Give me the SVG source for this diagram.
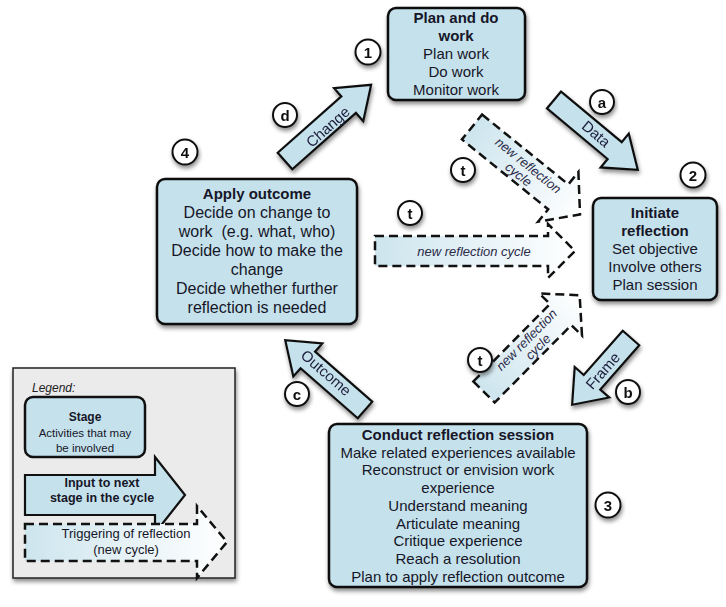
<svg xmlns="http://www.w3.org/2000/svg" width="726" height="607" viewBox="0 0 726 607">
<defs>
<style>
.box{fill:#c5e2ec;stroke:#111;stroke-width:2.5}
.arr{fill:#c5e2ec;stroke:#111;stroke-width:2.2;stroke-linejoin:miter}
.dash{fill:url(#dg);stroke:#111;stroke-width:2.5;stroke-dasharray:9 5}
.t{font-family:"Liberation Sans",Arial,sans-serif;fill:#161628;text-anchor:middle}
.b{font-weight:bold}
.al{font-family:"Liberation Sans",Arial,sans-serif;fill:#1b1b3a;font-size:15px;text-anchor:middle}
.dl{font-family:"Liberation Sans",Arial,sans-serif;fill:#2a2a48;font-size:13px;font-style:italic;text-anchor:middle}
.num circle{fill:#fff;stroke:#111;stroke-width:2}
.num text{font-family:"Liberation Sans",Arial,sans-serif;font-weight:bold;font-size:15px;fill:#111;text-anchor:middle}
</style>
<linearGradient id="dg" x1="0" y1="0" x2="1" y2="0">
<stop offset="0" stop-color="#cde5ee"/>
<stop offset="1" stop-color="#ffffff"/>
</linearGradient>
<filter id="sh" x="-20%" y="-20%" width="140%" height="150%">
<feDropShadow dx="1" dy="3" stdDeviation="2" flood-color="#000" flood-opacity="0.45"/>
</filter>
</defs>
<rect width="726" height="607" fill="#fff"/>

<g id="connectors">
<g id="arrow-change" filter="url(#sh)">
<path class="arr" transform="translate(285,161) rotate(-41.5)" d="M0,-11 L85,-11 L85,-22 L115,0 L85,22 L85,11 L0,11 Z"/>
<text class="al" transform="translate(328,127) rotate(-41.5)" y="5">Change</text>
</g>
<g id="arrow-data" filter="url(#sh)">
<path class="arr" transform="translate(554,100) rotate(39.8)" d="M0,-11 L79,-11 L79,-22 L109,0 L79,22 L79,11 L0,11 Z"/>
<text class="al" transform="translate(596,134) rotate(39.8)" y="5">Data</text>
</g>
<g id="arrow-outcome" filter="url(#sh)">
<path class="arr" transform="translate(365,410) rotate(-138.8)" d="M0,-11 L76,-11 L76,-22 L106,0 L76,22 L76,11 L0,11 Z"/>
<text class="al" transform="translate(326,373) rotate(41.2)" y="5">Outcome</text>
</g>
<g id="arrow-frame" filter="url(#sh)">
<path class="arr" transform="translate(631,338) rotate(131.4)" d="M0,-11 L59,-11 L59,-23 L89,0 L59,23 L59,11 L0,11 Z"/>
<text class="al" transform="translate(603,371) rotate(-48.6)" y="5">Frame</text>
</g>
<g id="trigger-top">
<g transform="translate(472,127) rotate(39)">
<path class="dash" d="M0,-16 L111,-16 L111,-32 L139,0 L111,32 L111,16 L0,16 Z"/>
<text class="dl" x="68" y="-1">new reflection</text>
<text class="dl" x="66" y="12">cycle</text>
</g>
</g>
<g id="trigger-mid">
<g transform="translate(375,251)">
<path class="dash" d="M0,-15 L173,-15 L173,-27 L200,0 L173,27 L173,15 L0,15 Z"/>
<text class="dl" x="99" y="5">new reflection cycle</text>
</g>
</g>
<g id="trigger-low">
<g transform="translate(484,392) rotate(-45.3)">
<path class="dash" d="M0,-15 L109,-15 L109,-30 L136,0 L109,30 L109,15 L0,15 Z"/>
<text class="dl" x="67" y="-2">new reflection</text>
<text class="dl" x="70" y="11">cycle</text>
</g>
</g>
</g>

<g id="node-plan">
<rect class="box" x="388" y="8" width="137" height="92" rx="8" filter="url(#sh)"/>
<text class="t b" x="456" y="23" font-size="15">Plan and do</text>
<text class="t b" x="456" y="41" font-size="15">work</text>
<text class="t" x="456" y="59" font-size="15">Plan work</text>
<text class="t" x="456" y="77" font-size="15">Do work</text>
<text class="t" x="456" y="95" font-size="15">Monitor work</text>
</g>

<g id="node-initiate">
<rect class="box" x="593" y="198" width="124" height="102" rx="8" filter="url(#sh)"/>
<text class="t b" x="655" y="218" font-size="15">Initiate</text>
<text class="t b" x="655" y="236" font-size="15">reflection</text>
<text class="t" x="655" y="254" font-size="15">Set objective</text>
<text class="t" x="655" y="272" font-size="15">Involve others</text>
<text class="t" x="655" y="290" font-size="15">Plan session</text>
</g>

<g id="node-conduct">
<rect class="box" x="329" y="424" width="258" height="163" rx="8" filter="url(#sh)"/>
<text class="t b" x="458" y="440" font-size="15">Conduct reflection session</text>
<text class="t" x="458" y="458" font-size="15">Make related experiences available</text>
<text class="t" x="458" y="475" font-size="15">Reconstruct or envision work</text>
<text class="t" x="458" y="493" font-size="15">experience</text>
<text class="t" x="458" y="511" font-size="15">Understand meaning</text>
<text class="t" x="458" y="529" font-size="15">Articulate meaning</text>
<text class="t" x="458" y="546" font-size="15">Critique experience</text>
<text class="t" x="458" y="564" font-size="15">Reach a resolution</text>
<text class="t" x="458" y="582" font-size="15">Plan to apply reflection outcome</text>
</g>

<g id="node-apply">
<rect class="box" x="157" y="179" width="200" height="145" rx="8" filter="url(#sh)"/>
<text class="t b" x="257" y="199" font-size="15">Apply outcome</text>
<text class="t" x="257" y="218" font-size="16">Decide on change to</text>
<text class="t" x="257" y="237" font-size="16" xml:space="preserve">work  (e.g. what, who)</text>
<text class="t" x="257" y="256" font-size="16">Decide how to make the</text>
<text class="t" x="257" y="275" font-size="16">change</text>
<text class="t" x="257" y="294" font-size="16">Decide whether further</text>
<text class="t" x="257" y="313" font-size="16">reflection is needed</text>
</g>

<g id="labels">
<g class="num" id="label-1" filter="url(#sh)"><circle cx="368" cy="52" r="12.5"/><text x="368" y="57.5">1</text></g>
<g class="num" id="label-2" filter="url(#sh)"><circle cx="693" cy="175" r="12.5"/><text x="693" y="180.5">2</text></g>
<g class="num" id="label-3" filter="url(#sh)"><circle cx="608" cy="505" r="12.5"/><text x="608" y="510.5">3</text></g>
<g class="num" id="label-4" filter="url(#sh)"><circle cx="185" cy="152" r="12.5"/><text x="185" y="157.5">4</text></g>
<g class="num" id="label-a" filter="url(#sh)"><circle cx="602" cy="102" r="12"/><text x="602" y="107.5">a</text></g>
<g class="num" id="label-b" filter="url(#sh)"><circle cx="628" cy="392" r="12"/><text x="628" y="397.5">b</text></g>
<g class="num" id="label-c" filter="url(#sh)"><circle cx="297" cy="394" r="12"/><text x="297" y="399.5">c</text></g>
<g class="num" id="label-d" filter="url(#sh)"><circle cx="285" cy="115" r="12"/><text x="285" y="120.5">d</text></g>
<g class="num" id="label-t1" filter="url(#sh)"><circle cx="463" cy="170" r="12"/><text x="463" y="175.5">t</text></g>
<g class="num" id="label-t2" filter="url(#sh)"><circle cx="410" cy="213" r="12"/><text x="410" y="218.5">t</text></g>
<g class="num" id="label-t3" filter="url(#sh)"><circle cx="480" cy="360" r="12"/><text x="480" y="365.5">t</text></g>
</g>

<g id="legend">
<rect x="13" y="368" width="222" height="210" fill="#ebebeb" stroke="#222" stroke-width="1.5" filter="url(#sh)"/>
<text x="32" y="392" font-family="'Liberation Sans',Arial,sans-serif" font-size="12" font-style="italic" fill="#222">Legend:</text>
<g id="legend-stage">
<rect class="box" x="25" y="397" width="120" height="60" rx="8"/>
<text class="t b" x="85" y="421" font-size="12">Stage</text>
<text class="t" x="85" y="437" font-size="11.5">Activities that may</text>
<text class="t" x="85" y="452" font-size="11.5">be involved</text>
</g>
<g id="legend-input">
<path class="arr" d="M25,475 L155,475 L155,457 L185,495 L155,533 L155,515 L25,515 Z"/>
<text class="t b" x="102" y="487" font-size="12.5">Input to next</text>
<text class="t b" x="102" y="502" font-size="12.5">stage in the cycle</text>
</g>
<g id="legend-trigger">
<path class="dash" d="M25,524 L197,524 L197,506 L227,542 L197,578 L197,561 L25,561 Z"/>
<text class="t" x="126" y="538" font-size="13">Triggering of reflection</text>
<text class="t" x="126" y="554" font-size="13">(new cycle)</text>
</g>
</g>
</svg>
